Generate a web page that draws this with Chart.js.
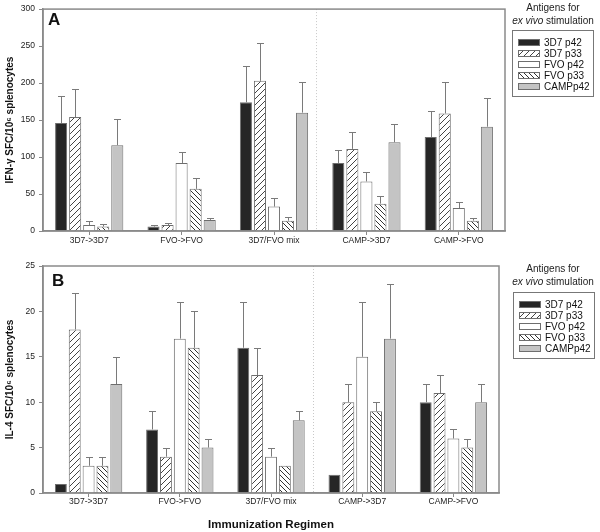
<!DOCTYPE html>
<html>
<head>
<meta charset="utf-8">
<script src="https://cdn.jsdelivr.net/npm/chart.js@4.4.1/dist/chart.umd.min.js"></script>
<style>
  body { margin: 0; background: #fff; font-family: Arial, "Liberation Sans", sans-serif; }
  #wrap { position: relative; width: 600px; height: 532px; overflow: hidden; }
  #wrap canvas.chart { position: absolute; left: 0; }
  .panel { position: absolute; font-weight: bold; font-size: 17px; color: #111; }
  .ltitle { position: absolute; width: 110px; text-align: center; font-size: 10px; color: #222; line-height: 12.5px; }
  .lbox { position: absolute; width: 82px; height: 67px; border: 1px solid #777; box-sizing: border-box; }
  .row { position: absolute; left: 5px; height: 11px; font-size: 10px; line-height: 11px; color: #111; white-space: nowrap; }
  .row canvas { position: absolute; left: 0; top: 2px; }
  .row span { position: absolute; left: 26px; top: 0; }
</style>
</head>
<body>
<div id="wrap">
  <canvas id="chartA" class="chart" width="600" height="250" style="top:0"></canvas>
  <canvas id="chartB" class="chart" width="600" height="282" style="top:250px"></canvas>
  <div class="panel" style="left:48px;top:10px">A</div>
  <div class="panel" style="left:52px;top:271px">B</div>
  <div class="ltitle" style="left:498px;top:2px">Antigens for<br><i>ex vivo</i> stimulation</div>
  <div class="lbox" id="legA" style="left:512px;top:30px"></div>
  <div class="ltitle" style="left:498px;top:263px">Antigens for<br><i>ex vivo</i> stimulation</div>
  <div class="lbox" id="legB" style="left:513px;top:292px"></div>
</div>
<script>
const groups = ["3D7->3D7", "FVO->FVO", "3D7/FVO mix", "CAMP->3D7", "CAMP->FVO"];
const antigens = ["3D7 p42", "3D7 p33", "FVO p42", "FVO p33", "CAMPp42"];

// panel A: IFN-gamma, mean and upper error per regimen
const ifn3D7p42 = [146, 6, 174, 92, 127];
const ifn3D7p33 = [154, 8, 203, 111, 159];
const ifnFVOp42 = [8, 92, 33, 67, 31];
const ifnFVOp33 = [6, 57, 14, 37, 14];
const ifnCAMPp42 = [116, 15, 160, 120, 141];
const ifnErr3D7p42 = [37, 2, 49, 18, 35];
const ifnErr3D7p33 = [38, 3, 51, 23, 42];
const ifnErrFVOp42 = [6, 15, 11, 13, 8];
const ifnErrFVOp33 = [4, 14, 5, 10, 4];
const ifnErrCAMPp42 = [35, 3, 42, 24, 39];

// panel B: IL-4
const il43D7p42 = [1, 7, 16, 2, 10];
const il43D7p33 = [18, 4, 13, 10, 11];
const il4FVOp42 = [3, 17, 4, 15, 6];
const il4FVOp33 = [3, 16, 3, 9, 5];
const il4CAMPp42 = [12, 5, 8, 17, 10];
const il4Err3D7p42 = [0, 2, 5, 0, 2];
const il4Err3D7p33 = [4, 1, 3, 2, 2];
const il4ErrFVOp42 = [1, 4, 1, 6, 1];
const il4ErrFVOp33 = [1, 4, 0, 1, 1];
const il4ErrCAMPp42 = [3, 1, 1, 6, 2];

const ticksA = [0, 50, 100, 150, 200, 250, 300];
const ticksB = [0, 5, 10, 15, 20, 25];

const FONT = 'Arial, "Liberation Sans", sans-serif';

function hatch(size, forward, color) {
  const c = document.createElement("canvas");
  c.width = c.height = size;
  const g = c.getContext("2d");
  g.fillStyle = "#fff";
  g.fillRect(0, 0, size, size);
  g.strokeStyle = color;
  g.lineWidth = 1;
  g.beginPath();
  if (forward) {
    g.moveTo(0, size); g.lineTo(size, 0);
    g.moveTo(-1, 1); g.lineTo(1, -1);
    g.moveTo(size - 1, size + 1); g.lineTo(size + 1, size - 1);
  } else {
    g.moveTo(0, 0); g.lineTo(size, size);
    g.moveTo(size - 1, -1); g.lineTo(size + 1, 1);
    g.moveTo(-1, size - 1); g.lineTo(1, size + 1);
  }
  g.stroke();
  return g.createPattern(c, "repeat");
}

const fills = [
  "#262626",
  hatch(6, true, "#444"),
  "#ffffff",
  hatch(5, false, "#333"),
  "#c4c4c4",
];

const errorBars = {
  id: "errorBars",
  afterDatasetsDraw(chart) {
    const { ctx } = chart;
    const y = chart.scales.y;
    ctx.save();
    ctx.strokeStyle = "#7a7a7a";
    ctx.lineWidth = 1;
    chart.data.datasets.forEach((ds, i) => {
      const meta = chart.getDatasetMeta(i);
      meta.data.forEach((bar, j) => {
        const e = ds.errors[j];
        if (!e) return;
        const top = y.getPixelForValue(ds.data[j] + e);
        const x = Math.round(bar.x) + 0.5;
        ctx.beginPath();
        ctx.moveTo(x, bar.y);
        ctx.lineTo(x, Math.round(top) + 0.5);
        ctx.moveTo(x - 3.5, Math.round(top) + 0.5);
        ctx.lineTo(x + 3.5, Math.round(top) + 0.5);
        ctx.stroke();
      });
    });
    ctx.restore();
  },
};

const frame = {
  id: "frame",
  beforeDatasetsDraw(chart) {
    const { ctx, chartArea: a } = chart;
    const x = chart.scales.x;
    const sx = Math.round((x.getPixelForValue(2) + x.getPixelForValue(3)) / 2) - 3.5;
    ctx.save();
    ctx.strokeStyle = "#c8c8c8";
    ctx.setLineDash([1, 2]);
    ctx.lineWidth = 1;
    ctx.beginPath();
    ctx.moveTo(sx, a.top);
    ctx.lineTo(sx, a.bottom);
    ctx.stroke();
    ctx.restore();
  },
  afterDraw(chart) {
    const { ctx, chartArea: a } = chart;
    ctx.save();
    ctx.strokeStyle = "#8a8a8a";
    ctx.lineWidth = 1.5;
    ctx.strokeRect(a.left, a.top, a.right - a.left, a.bottom - a.top);
    ctx.restore();
  },
};

function makeChart(id, series, errs, yMax, yTicks, yTitle, opt) {
  const datasets = series.map((s, i) => ({
    label: antigens[i],
    data: s,
    errors: errs[i],
    backgroundColor: fills[i],
    borderColor: "#6e6e6e",
    borderWidth: 1,
    borderSkipped: "bottom",
  }));
  return new Chart(document.getElementById(id), {
    type: "bar",
    data: { labels: groups, datasets },
    options: {
      responsive: false,
      animation: false,
      events: [],
      categoryPercentage: 0.76,
      barPercentage: 0.86,
      layout: { padding: { left: 0, right: opt.right, top: opt.top, bottom: 0 } },
      plugins: { legend: { display: false }, tooltip: { enabled: false } },
      scales: {
        x: {
          afterFit: (s) => { s.height = opt.xh; },
          grid: { display: true, drawOnChartArea: false, offset: false, tickLength: 4, color: "#8a8a8a" },
          border: { color: "#8a8a8a", width: 1.5 },
          ticks: { color: "#222", padding: opt.xpad, font: { family: FONT, size: 8.5 } },
          title: {
            display: !!opt.xTitle,
            text: opt.xTitle || "",
            color: "#111",
            padding: 0,
            font: { family: FONT, size: 11.5, weight: "bold" },
          },
        },
        y: {
          min: 0,
          max: yMax,
          afterFit: (s) => { s.width = 43; },
          afterBuildTicks: (s) => { s.ticks = yTicks.map((v) => ({ value: v })); },
          grid: { display: true, drawOnChartArea: false, tickLength: 4, color: "#8a8a8a" },
          border: { color: "#8a8a8a", width: 1.5 },
          ticks: { color: "#222", padding: 4, font: { family: FONT, size: 8.5 } },
          title: {
            display: true,
            text: yTitle,
            color: "#111",
            padding: { top: 4, bottom: 0 },
            font: { family: FONT, size: 10, weight: "bold" },
          },
        },
      },
    },
    plugins: [frame, errorBars],
  });
}

makeChart(
  "chartA",
  [ifn3D7p42, ifn3D7p33, ifnFVOp42, ifnFVOp33, ifnCAMPp42],
  [ifnErr3D7p42, ifnErr3D7p33, ifnErrFVOp42, ifnErrFVOp33, ifnErrCAMPp42],
  300, ticksA, "IFN-\u03b3 SFC/10\u2076 splenocytes",
  { right: 95, top: 4, xh: 19, xpad: 1 }
);

makeChart(
  "chartB",
  [il43D7p42, il43D7p33, il4FVOp42, il4FVOp33, il4CAMPp42],
  [il4Err3D7p42, il4Err3D7p33, il4ErrFVOp42, il4ErrFVOp33, il4ErrCAMPp42],
  25, ticksB, "IL-4 SFC/10\u2076 splenocytes",
  { right: 101, top: 16, xh: 39, xpad: 0, xTitle: "Immunization Regimen" }
);

function buildLegend(id) {
  const box = document.getElementById(id);
  antigens.forEach((name, i) => {
    const row = document.createElement("div");
    row.className = "row";
    row.style.top = (5.5 + i * 11) + "px";
    const sw = document.createElement("canvas");
    sw.width = 22;
    sw.height = 7;
    const g = sw.getContext("2d");
    g.fillStyle = fills[i];
    g.fillRect(0, 0, 22, 7);
    g.strokeStyle = "#6e6e6e";
    g.strokeRect(0.5, 0.5, 21, 6);
    const t = document.createElement("span");
    t.textContent = name;
    row.appendChild(sw);
    row.appendChild(t);
    box.appendChild(row);
  });
}
buildLegend("legA");
buildLegend("legB");
</script>
</body>
</html>
